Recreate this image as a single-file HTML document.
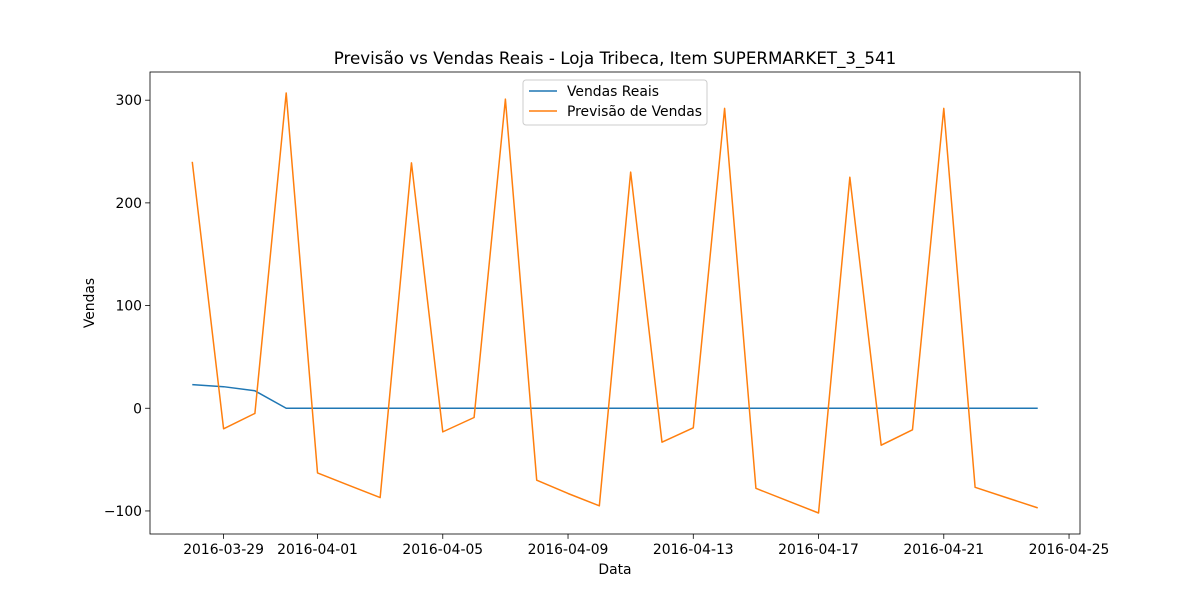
<!DOCTYPE html>
<html><head><meta charset="utf-8"><style>
body{margin:0;background:#fff;}
svg{display:block;font-family:"DejaVu Sans","Liberation Sans",sans-serif;}
</style></head><body>
<svg id="chart" width="1200" height="600"></svg>
<script>
const dates = ["2016-03-28","2016-03-29","2016-03-30","2016-03-31","2016-04-01","2016-04-02","2016-04-03","2016-04-04","2016-04-05","2016-04-06","2016-04-07","2016-04-08","2016-04-09","2016-04-10","2016-04-11","2016-04-12","2016-04-13","2016-04-14","2016-04-15","2016-04-16","2016-04-17","2016-04-18","2016-04-19","2016-04-20","2016-04-21","2016-04-22","2016-04-23","2016-04-24"];
const vendasReais = [23,21,17,0,0,0,0,0,0,0,0,0,0,0,0,0,0,0,0,0,0,0,0,0,0,0,0,0];
const previsao = [240,-20,-5,307,-63,-75,-87,239,-23,-9,301,-70,-83,-95,230,-33,-19,292,-78,-90,-102,225,-36,-21,292,-77,-87,-97];
const xTickLabels = ["2016-03-29","2016-04-01","2016-04-05","2016-04-09","2016-04-13","2016-04-17","2016-04-21","2016-04-25"];
const yTicks = [-100,0,100,200,300];

const svg = document.getElementById('chart');
const NS = 'http://www.w3.org/2000/svg';
const L=150,R=1080,T=72,B=534;
const day = s => Date.parse(s+"T00:00:00Z")/86400000;
const d0 = day(dates[0]), d1 = day(dates[dates.length-1]);
const all = vendasReais.concat(previsao);
const ymin0=Math.min(...all), ymax0=Math.max(...all);
const xm=(d1-d0)*0.05, ym=(ymax0-ymin0)*0.05;
const xs = d => L+(d-(d0-xm))/((d1+xm)-(d0-xm))*(R-L);
const ys = v => B-(v-(ymin0-ym))/((ymax0+ym)-(ymin0-ym))*(B-T);
function mk(tag, attrs, parent){const e=document.createElementNS(NS,tag);for(const k in attrs)e.setAttribute(k,attrs[k]);(parent||svg).appendChild(e);return e;}

const title = mk('text',{x:(L+R)/2,y:64,'text-anchor':'middle','font-size':16.7});
title.textContent="Previsão vs Vendas Reais - Loja Tribeca, Item SUPERMARKET_3_541";



xTickLabels.forEach(t=>{
  const x=xs(day(t));
  const ln=mk('line',{x1:x,x2:x,y1:B,y2:B+4.9,stroke:'#000','stroke-width':0.8});
  
  
  const tx=mk('text',{x:x,y:B+20,'text-anchor':'middle','font-size':13.9});
  tx.textContent=t;
  
  
});
yTicks.forEach(v=>{
  const y=ys(v);
  const ln=mk('line',{x1:L-4.9,x2:L,y1:y,y2:y,stroke:'#000','stroke-width':0.8});
  
  
  const tx=mk('text',{x:L-8,y:y+5,'text-anchor':'end','font-size':13.9});
  tx.textContent=v<0?'\u2212'+Math.abs(v):String(v);
  
  
});
const xl=mk('text',{x:(L+R)/2,y:574,'text-anchor':'middle','font-size':13.9});
xl.textContent='Data';


const yl=mk('text',{x:0,y:0,'text-anchor':'middle','font-size':13.9,transform:`translate(94,${(T+B)/2}) rotate(-90)`});
yl.textContent='Vendas';



function line(vals,color,name){
  const pts=vals.map((v,i)=>xs(day(dates[i])).toFixed(2)+','+ys(v).toFixed(2)).join(' ');
  const p=mk('polyline',{points:pts,fill:'none',stroke:color,'stroke-width':1.5,'stroke-linejoin':'round'});
  
  
}
line(vendasReais,'#1f77b4','vendas-reais-line');
line(previsao,'#ff7f0e','previsao-line');

const frame=mk('rect',{x:L,y:T,width:R-L,height:B-T,fill:'none',stroke:'#000','stroke-width':0.8});



const lg=mk('g',{});


mk('rect',{x:523,y:80,width:184,height:45,rx:3,fill:'#fff','fill-opacity':0.8,stroke:'#ccc','stroke-width':1},lg);
[['Vendas Reais','#1f77b4',91],['Previsão de Vendas','#ff7f0e',111]].forEach(([lab,c,y])=>{
  const g=mk('g',{},lg);
  
  
  mk('line',{x1:529,x2:557,y1:y,y2:y,stroke:c,'stroke-width':1.5},g);
  const t=mk('text',{x:567,y:y+5,'font-size':13.9},g);
  t.textContent=lab;
});
</script>
</body></html>
